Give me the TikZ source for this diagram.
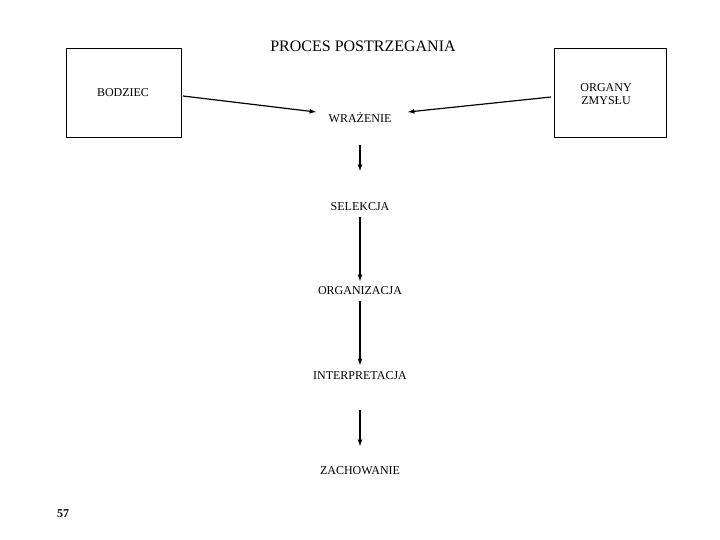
\documentclass[tikz,border=0pt]{standalone}
\usepackage{fontspec}
\setmainfont{Liberation Serif}
\begin{document}
\begin{tikzpicture}[x=1pt,y=-1pt,
 lbl/.style={font=\fontsize{12}{13}\selectfont,inner sep=0pt,align=center},
 box/.style={draw,line width=0.8pt},
 arr/.style={-latex,line width=1.2pt}]
\useasboundingbox (0,0) rectangle (720,540);
\node[lbl,font=\fontsize{16}{18}\selectfont] (t) at (363,46) {PROCES POSTRZEGANIA};
\draw[box] (66,48) rectangle (181,137);
\draw[box] (554,48) rectangle (666,137);
\node[lbl] (b) at (123,93) {BODZIEC};
\node[lbl] (o) at (606,94) {ORGANY\\ ZMYSŁU};
\coordinate (bl) at (183,96);
\coordinate (or) at (551,97);
\node[lbl] (w) at (360,118) {WRAŻENIE};
\node[lbl] (s) at (360,207) {SELEKCJA};
\node[lbl] (g) at (360,291) {ORGANIZACJA};
\node[lbl] (i) at (360,376) {INTERPRETACJA};
\node[lbl] (z) at (360,471) {ZACHOWANIE};
\node[lbl,font=\bfseries\fontsize{12}{13}\selectfont] (n) at (63,514) {57};
\draw[arr] (bl) -- (316,112);
\draw[arr] (or) -- (408,112);
\draw[arr] (360,145) -- (360,171);
\draw[arr] (s.south) ++(0,6) -- (360,281);
\draw[arr] (g.south) ++(0,6) -- (360,365);
\draw[arr] (360,410) -- (360,446);
\end{tikzpicture}
\end{document}
